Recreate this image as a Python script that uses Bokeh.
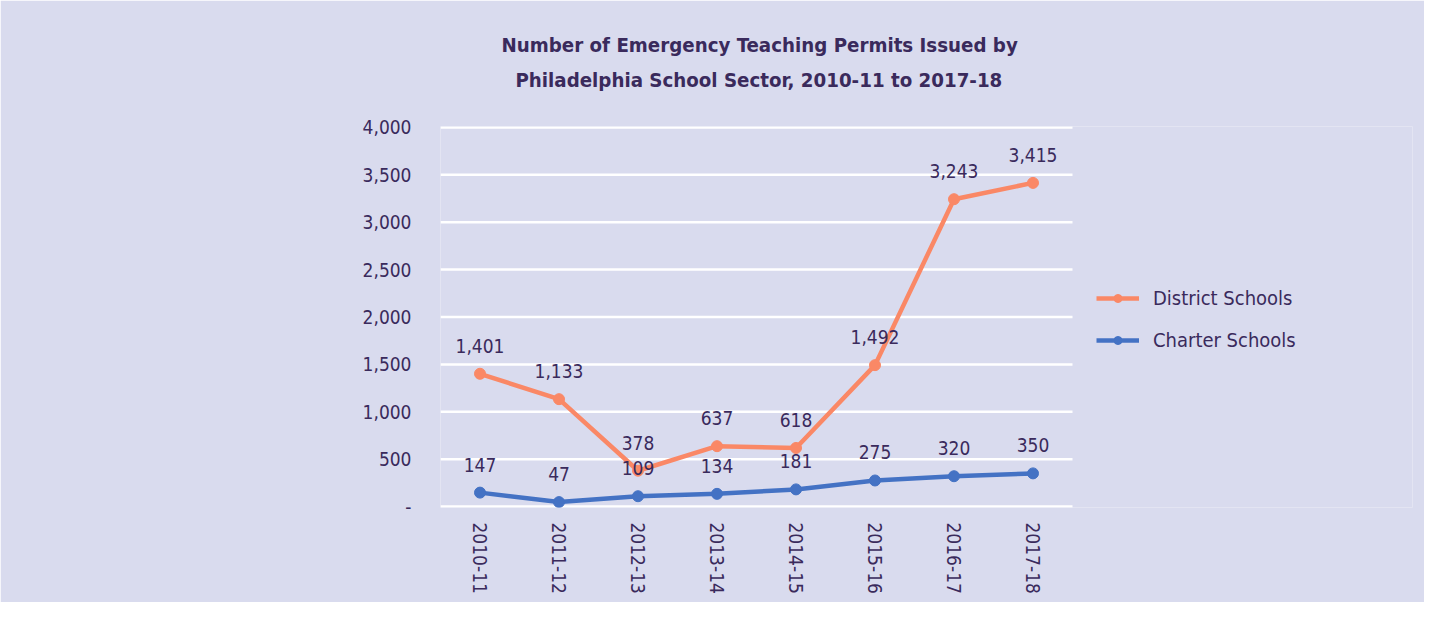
from bokeh.plotting import figure
from bokeh.models import (ColumnDataSource, Range1d, LabelSet, Legend, LegendItem,
                          CustomJSTickFormatter, Title, FixedTicker)
from bokeh.core.properties import value
from bokeh.embed import file_html
from bokeh.resources import INLINE

years = ["2010-11", "2011-12", "2012-13", "2013-14", "2014-15", "2015-16", "2016-17", "2017-18"]
district = [1401, 1133, 378, 637, 618, 1492, 3243, 3415]
charter = [147, 47, 109, 134, 181, 275, 320, 350]
y_ticks = [0, 500, 1000, 1500, 2000, 2500, 3000, 3500, 4000]
title_lines = ["Number of Emergency Teaching Permits Issued by",
               "Philadelphia School Sector, 2010-11 to 2017-18"]

FONT = "DejaVu Sans Condensed, Roboto, sans-serif"
TXT = "#3a2a5c"
BG = "#d9dbee"
ORANGE = "#fa8866"
BLUE = "#4472c4"

xs = [i + 0.5 for i in range(len(years))]
src_d = ColumnDataSource(dict(x=xs, y=district, t=[f"{v:,}" for v in district]))
src_c = ColumnDataSource(dict(x=xs, y=charter, t=[f"{v:,}" for v in charter]))

FRAME_LEFT, FRAME_RIGHT, CAT_W = 440, 1412, 79.0
p = figure(width=1424, height=602, x_range=Range1d(0, (FRAME_RIGHT - FRAME_LEFT) / CAT_W),
           y_range=Range1d(-10, 4010), output_backend="svg", toolbar_location=None,
           min_border_left=FRAME_LEFT, min_border_right=1424 - FRAME_RIGHT,
           min_border_top=126, min_border_bottom=95)
p.background_fill_color = BG
p.border_fill_color = BG
p.outline_line_color = None

# spacer panel (text in background colour) between the frame and the title
p.add_layout(Title(text=".", align="left", text_font=FONT, text_font_size="20.3px",
                   text_color=BG, standoff=14), "above")
p.add_layout(Title(text=title_lines[1], align="left",
                   text_font=FONT, text_font_size="20.3px", text_font_style="bold",
                   text_color=TXT, standoff=9, offset=75), "above")
p.add_layout(Title(text=title_lines[0], align="left",
                   text_font=FONT, text_font_size="20.3px", text_font_style="bold",
                   text_color=TXT, standoff=9, offset=61), "above")

# horizontal grid lines spanning only the category area
p.segment(x0=[0] * len(y_ticks), x1=[len(years)] * len(y_ticks), y0=y_ticks, y1=y_ticks,
          line_color="white", line_width=2.5)
p.xgrid.grid_line_color = None
p.ygrid.grid_line_color = None

ld = p.line("x", "y", source=src_d, line_color=ORANGE, line_width=4.5)
sd = p.scatter("x", "y", source=src_d, size=11, color=ORANGE)
lc = p.line("x", "y", source=src_c, line_color=BLUE, line_width=4.5)
sc = p.scatter("x", "y", source=src_c, size=11, color=BLUE)

for s in (src_d, src_c):
    p.add_layout(LabelSet(x="x", y="y", text="t", source=s, text_align="center",
                          text_baseline="middle", y_offset=28, text_font=value(FONT),
                          text_font_size=value("19px"), text_color=TXT))

p.yaxis.ticker = FixedTicker(ticks=y_ticks)
p.yaxis.formatter = CustomJSTickFormatter(code="return tick == 0 ? '-' : tick.toLocaleString('en-US');")
p.xaxis.ticker = FixedTicker(ticks=xs)
p.xaxis.major_label_overrides = {x: y for x, y in zip(xs, years)}
for ax in (p.xaxis[0], p.yaxis[0]):
    ax.axis_line_color = None
    ax.major_tick_line_color = None
    ax.minor_tick_line_color = None
    ax.major_tick_out = 0
    ax.minor_tick_out = 0
    ax.major_label_text_font = FONT
    ax.major_label_text_font_size = "19px"
    ax.major_label_text_color = TXT
p.yaxis.major_label_standoff = 29
p.xaxis.major_label_orientation = "vertical"
p.xaxis.major_label_standoff = 15

legend = Legend(items=[LegendItem(label="District Schools", renderers=[ld, sd]),
                       LegendItem(label="Charter Schools", renderers=[lc, sc])],
                location=(656, 155), background_fill_alpha=0, border_line_color=None,
                label_text_font=FONT, label_text_font_size="20px", label_text_color=TXT,
                glyph_width=43, spacing=18, label_standoff=14)
p.add_layout(legend, "center")

open("out.html", "w").write(file_html(p, INLINE))
